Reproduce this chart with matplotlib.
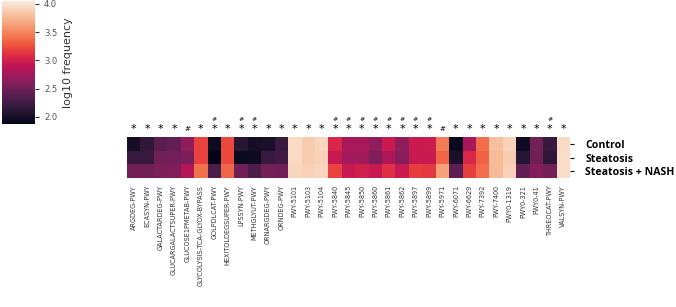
import numpy as np
import matplotlib
matplotlib.use("Agg")
import matplotlib.pyplot as plt
import seaborn as sns

# pathways (columns) and groups (rows)
pathways = [
    "ARGDEG-PWY", "ECASYN-PWY", "GALACTARDEG-PWY", "GLUCARGALACTSUPER-PWY",
    "GLUCOSE1PMETAB-PWY", "GLYCOLYSIS-TCA-GLYOX-BYPASS", "GOLPDLCAT-PWY",
    "HEXITOLDEGSUPER-PWY", "LPSSYN-PWY", "METHGLYUT-PWY", "ORNARGDEG-PWY",
    "ORNDEG-PWY", "PWY-5101", "PWY-5103", "PWY-5104", "PWY-5840", "PWY-5845",
    "PWY-5850", "PWY-5860", "PWY-5861", "PWY-5862", "PWY-5897", "PWY-5899",
    "PWY-5971", "PWY-6071", "PWY-6629", "PWY-7392", "PWY-7400", "PWY0-1319",
    "PWY0-321", "PWY0-41", "THREOCAT-PWY", "VALSYN-PWY",
]
groups = ["Control", "Steatosis", "Steatosis + NASH"]

# log10 frequency per group
control = [2.00, 2.15, 2.40, 2.42, 2.68, 3.20, 1.95, 3.22, 2.10, 2.00, 2.02,
           2.20, 3.95, 3.87, 3.93, 3.05, 2.78, 2.78, 2.65, 2.95, 2.66, 2.96,
           2.97, 3.45, 1.93, 2.78, 3.38, 3.80, 3.90, 1.95, 2.52, 2.20, 3.95]
steatosis = [2.20, 2.20, 2.50, 2.52, 2.55, 3.20, 1.89, 3.22, 1.93, 1.95, 2.20,
             2.25, 3.95, 3.87, 3.90, 2.95, 2.75, 2.75, 2.58, 2.82, 2.62, 2.95,
             2.95, 3.35, 2.03, 3.05, 3.32, 3.77, 3.87, 2.10, 2.48, 2.15, 3.97]
nash = [2.50, 2.50, 2.55, 2.58, 2.85, 3.40, 2.30, 3.35, 2.50, 2.30, 2.52,
        2.50, 3.93, 3.90, 3.93, 3.20, 2.95, 3.00, 2.95, 3.10, 2.95, 3.17,
        3.15, 3.65, 2.40, 3.17, 3.38, 3.77, 3.90, 2.42, 2.60, 2.52, 3.97]

# significance marks above each column
marks = ["*", "*", "*", "*", "#", "*", "*#", "*", "*#", "*#", "*", "*", "*",
         "*", "*", "*#", "*#", "*#", "*#", "*#", "*#", "*#", "*#", "#", "*",
         "*", "*", "*", "*", "*", "*", "*#", "*"]

data = np.array([control, steatosis, nash])

fig = plt.figure(figsize=(6.76, 3.07), dpi=100)
ax = fig.add_axes([127 / 676, 1 - 178 / 307, 443 / 676, 41 / 307])
cax = fig.add_axes([2 / 676, 1 - 124 / 307, 33 / 676, 123 / 307])

cmap = sns.color_palette("rocket", as_cmap=True)
sns.heatmap(data, ax=ax, cbar_ax=cax, cmap=cmap, vmin=1.875, vmax=4.05,
            xticklabels=pathways, yticklabels=groups,
            cbar_kws={"ticks": [2.0, 2.5, 3.0, 3.5, 4.0]})

ax.yaxis.tick_right()
ax.set_yticklabels(groups, rotation=0, fontsize=7.6, fontweight="bold",
                   fontfamily="Open Sans")
ax.tick_params(axis="y", length=3, width=0.8, pad=8)
ax.set_xticklabels(pathways, rotation=90, fontsize=4.7, color="#333333")
ax.tick_params(axis="x", length=0, pad=5)

for i, m in enumerate(marks):
    if m == "*#":
        ax.text(i + 0.5, -0.55, "*", ha="center", va="center", fontsize=8)
        ax.text(i + 0.5, -1.3, "#", ha="center", va="center", fontsize=4.5)
    elif m == "#":
        ax.text(i + 0.5, -0.6, "#", ha="center", va="center", fontsize=5)
    else:
        ax.text(i + 0.5, -0.55, "*", ha="center", va="center", fontsize=8)

cax.tick_params(labelsize=6, length=3, colors="#333333", labelcolor="#555555")
cax.set_ylabel("log10 frequency", fontsize=8, color="#333333")
cax.yaxis.set_label_position("right")

fig.savefig("out.png", dpi=100)
